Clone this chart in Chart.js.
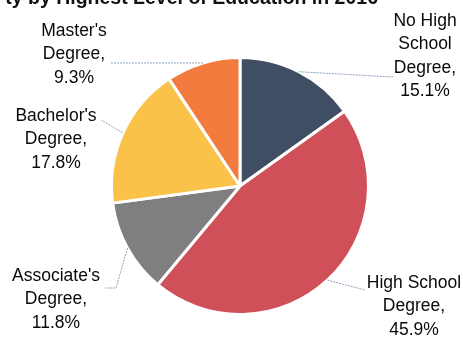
<!DOCTYPE html>
<html>
<head>
<meta charset="utf-8">
<script src="https://cdn.jsdelivr.net/npm/chart.js@4.4.1/dist/chart.umd.min.js"></script>
<style>
  html, body { margin: 0; padding: 0; background: #fff; }
  #wrap { width: 463px; height: 341px; }
</style>
</head>
<body>
<div id="wrap"><canvas id="myChart" width="463" height="341"></canvas></div>
<script>
const titleText = "ty by Highest Level of Education in 2016";
const categories = ["No High School Degree", "High School Degree", "Associate's Degree", "Bachelor's Degree", "Master's Degree"];
const labelLines = [["No High", "School", "Degree,"], ["High School", "Degree,"], ["Associate's", "Degree,"], ["Bachelor's", "Degree,"], ["Master's", "Degree,"]];
const shares = [15.1, 45.9, 11.8, 17.8, 9.3];
const sliceColors = ['#404e64', '#d0505a', '#7f7f7f', '#fbc249', '#f27b3d'];

// where each label sits and how its leader line bends (label side only)
const labelSpots = [
    { x: 425, y: 21, leader: [[393, 77]] },
    { x: 414, y: 283, leader: [[365, 290]] },
    { x: 56, y: 276, leader: [[116, 288], [105, 288]] },
    { x: 56, y: 116, leader: [[101, 120]] },
    { x: 74, y: 31, leader: [[110, 63]] }
];

const pieLabels = {
    id: 'pieLabels',
    afterDraw(chart) {
        const ctx = chart.ctx;
        const arcs = chart.getDatasetMeta(0).data;
        ctx.save();
        ctx.font = 'bold 19.5px "Liberation Sans", Arial, sans-serif';
        ctx.fillStyle = '#111';
        ctx.textAlign = 'right';
        ctx.textBaseline = 'alphabetic';
        ctx.fillText(titleText, 378, 4);

        arcs.forEach((arc, i) => {
            const p = arc.getProps(['x', 'y', 'startAngle', 'endAngle', 'outerRadius'], true);
            const mid = (p.startAngle + p.endAngle) / 2;
            const ex = p.x + Math.cos(mid) * p.outerRadius;
            const ey = p.y + Math.sin(mid) * p.outerRadius;
            const spot = labelSpots[i];
            ctx.strokeStyle = '#8ea3bb';
            ctx.lineWidth = 1;
            ctx.setLineDash([2, 1]);
            ctx.beginPath();
            ctx.moveTo(ex, ey);
            spot.leader.forEach(pt => ctx.lineTo(pt[0], pt[1]));
            ctx.stroke();
            ctx.setLineDash([]);

            ctx.font = '17.5px "Liberation Sans", Arial, sans-serif';
            ctx.fillStyle = '#0a0a0a';
            ctx.textAlign = 'center';
            ctx.textBaseline = 'middle';
            const lines = labelLines[i].concat([shares[i].toFixed(1) + '%']);
            lines.forEach((t, k) => ctx.fillText(t, spot.x, spot.y + k * 23.5));
        });
        ctx.restore();
    }
};

const ctx = document.getElementById('myChart').getContext('2d');
new Chart(ctx, {
    type: 'pie',
    data: {
        labels: categories,
        datasets: [{
            data: shares,
            backgroundColor: sliceColors,
            borderColor: '#ffffff',
            borderWidth: 3
        }]
    },
    options: {
        responsive: false,
        animation: false,
        layout: { padding: { top: 56, bottom: 25, left: 40, right: 23 } },
        plugins: {
            legend: { display: false },
            tooltip: { enabled: false }
        }
    },
    plugins: [pieLabels]
});
</script>
</body>
</html>
